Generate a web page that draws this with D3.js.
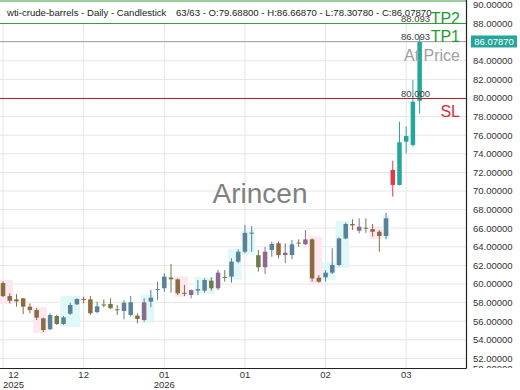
<!DOCTYPE html>
<html>
<head>
<meta charset="utf-8">
<script src="https://cdn.jsdelivr.net/npm/d3@7"></script>
<style>
  body { margin: 0; background: #fff; }
  svg { display: block; font-family: "Liberation Sans", Arial, sans-serif; }
</style>
</head>
<body>
<div id="main"></div>
<script>
const ctx = {
    w: 520,
    h: 390,
};

// daily OHLC, 63 sessions
const opens  = [60.1, 58.7, 58.35, 58.46, 57.56, 57.2, 56.31, 55.13, 55.7, 55.7, 56.8, 57.82, 58.38, 58.35, 56.98, 57.7,
                57.85, 57.28, 57.1, 58.03, 56.6, 56.13, 58.1, 59.35, 59.54, 60.5, 60.5, 59.05, 58.82, 59.3, 59.28, 59.54,
                59.54, 60.75, 60.79, 62.4, 63.47, 65.45, 63.1, 61.8, 63.66, 64.38, 63.12, 63.12, 64.38, 64.27, 64.8, 60.68,
                60.72, 61.22, 62.04, 64.9, 66.45, 65.73, 66.05, 65.9, 65.62, 65.16, 72.26, 70.65, 75.3, 74.95, 79.688];
const highs  = [60.3, 59.0, 58.92, 58.5, 57.92, 57.4, 56.38, 56.85, 56.7, 56.56, 58.0, 58.46, 58.64, 58.7, 58.1, 58.35,
                58.46, 57.74, 58.28, 58.7, 56.85, 58.46, 59.35, 60.25, 61.15, 62.15, 60.6, 59.9, 59.4, 60.43, 60.6, 60.72,
                61.5, 61.5, 62.76, 63.73, 66.34, 66.24, 63.66, 64.0, 64.55, 64.55, 64.38, 64.73, 64.8, 65.8, 64.9, 60.97,
                61.5, 63.84, 65.0, 66.6, 66.96, 67.06, 67.06, 66.45, 65.8, 67.67, 73.26, 77.45, 76.92, 81.94, 86.6687];
const lows   = [58.6, 57.9, 57.56, 56.77, 56.85, 56.13, 54.84, 55.05, 55.6, 55.6, 56.67, 57.74, 57.92, 56.67, 56.85, 57.5,
                57.3, 56.67, 56.2, 56.49, 55.77, 55.95, 57.5, 58.3, 59.17, 59.07, 58.82, 58.7, 58.46, 58.82, 59.07, 59.28,
                59.35, 60.25, 60.14, 62.23, 63.3, 63.47, 61.33, 61.08, 62.94, 62.76, 62.23, 62.66, 64.0, 64.2, 60.25, 60.14,
                60.25, 61.08, 61.9, 64.8, 65.8, 65.45, 65.5, 65.1, 63.47, 64.8, 69.39, 70.6, 74.05, 74.76, 78.3078];
const closes = [58.7, 58.2, 58.13, 57.56, 57.2, 56.38, 55.05, 56.67, 56.56, 56.42, 57.74, 58.39, 58.32, 56.85, 57.6, 57.8,
                57.39, 57.22, 57.99, 56.67, 56.24, 58.03, 58.53, 59.45, 60.79, 60.7, 59.0, 58.95, 59.35, 59.45, 60.43, 60.36,
                61.22, 60.68, 62.4, 63.47, 65.5, 65.52, 61.8, 63.47, 64.3, 63.1, 63.37, 64.27, 64.45, 64.8, 60.6, 60.25,
                61.22, 62.04, 64.9, 66.45, 66.3, 66.16, 65.95, 65.62, 65.16, 67.06, 70.65, 75.24, 75.91, 79.6, 86.0787];
// candle tone: b brown, u blue, v violet, o olive, R red, G green
const tones = "bbbbbbbuouuubbuooouubvuuuobbvuuovouuuuovubvuovbbuuuubvobbuRGGGG".split("");

// highlighted zones (candle index ranges)
const zoneFrom = [0, 5, 26, 46, 55, 9, 21, 29, 34, 36, 48, 50, 57];
const zoneTo   = [1, 6, 27, 47, 56, 11, 22, 31, 35, 37, 49, 51, 57];
const zoneKind = ["bear", "bear", "bear", "bear", "bear", "bull", "bull", "bull", "bull", "bull", "bull", "bull", "bull"];

const tickIndex = [0, 12, 24, 36, 48, 60];
const tickMonth = ["12", "12", "01", "01", "02", "03"];
const tickYear  = ["2025", "", "2026", "", "", ""];
const yTicks = d3.range(50, 91, 2);

const levelNames  = ["TP2", "TP1", "SL"];
const levelValues = [88.093, 86.093, 80.000];

const title = "wti-crude-barrels - Daily - Candlestick";
const info = "63/63 - O:79.68800 - H:86.66870 - L:78.30780 - C:86.07870";

function createChart(svgEl) {
    const plotW = 466, plotH = 368;
    const n = closes.length;
    const x = d3.scaleLinear().domain([-0.45, 68.9]).range([0, plotW]);
    const y = d3.scaleLinear().domain([50, 90]).range([377, 5]);
    const step = x(1) - x(0);
    const bw = 4.5;

    const tone = d3.scaleOrdinal()
        .domain(["b", "u", "v", "o", "R", "G"])
        .range(["#8b6b40", "#5b8197", "#8a6b8e", "#717a4d", "#e03a48", "#26a69a"]);
    const zoneColor = d3.scaleOrdinal().domain(["bear", "bull"]).range(["#fde7f1", "#e0f8f8"]);

    svgEl.append("defs").append("clipPath").attr("id", "plotClip")
        .append("rect").attr("width", plotW).attr("height", plotH);
    svgEl.append("defs").append("clipPath").attr("id", "axisClip")
        .append("rect").attr("x", plotW).attr("width", ctx.w - plotW).attr("height", plotH);

    const g = svgEl.append("g").attr("clip-path", "url(#plotClip)");

    // grid
    g.selectAll(".hgrid").data(yTicks).join("line")
        .attr("x1", 0).attr("x2", plotW)
        .attr("y1", d => y(d)).attr("y2", d => y(d))
        .attr("stroke", "#e6e6e6");
    g.selectAll(".vgrid").data(tickIndex).join("line")
        .attr("x1", d => x(d)).attr("x2", d => x(d))
        .attr("y1", 22).attr("y2", plotH)
        .attr("stroke", "#e6e6e6");

    // zones
    g.selectAll(".zone").data(zoneFrom).join("rect")
        .attr("x", d => x(d) - step / 2)
        .attr("width", (d, k) => x(zoneTo[k]) - x(d) + step)
        .attr("y", (d, k) => {
            const top = d3.max(d3.range(d, zoneTo[k] + 1), i => Math.max(opens[i], closes[i]));
            return y(top) - 3;
        })
        .attr("height", (d, k) => {
            const idx = d3.range(d, zoneTo[k] + 1);
            const top = d3.max(idx, i => Math.max(opens[i], closes[i]));
            const bot = d3.min(idx, i => Math.min(opens[i], closes[i]));
            return y(bot) - y(top) + 6;
        })
        .attr("fill", (d, k) => zoneColor(zoneKind[k]));

    // watermark
    g.append("text")
        .attr("x", 260).attr("y", 203)
        .attr("text-anchor", "middle")
        .style("font-size", "28px")
        .style("fill", "#808080")
        .text("Arincen");

    // candles
    const idx = d3.range(n);
    g.selectAll(".wick").data(idx).join("line")
        .attr("x1", i => x(i)).attr("x2", i => x(i))
        .attr("y1", i => y(highs[i])).attr("y2", i => y(lows[i]))
        .attr("stroke", i => tone(tones[i]))
        .attr("stroke-width", 1);
    g.selectAll(".body").data(idx).join("rect")
        .attr("x", i => x(i) - bw / 2)
        .attr("width", bw)
        .attr("y", i => y(Math.max(opens[i], closes[i])))
        .attr("height", i => Math.max(1, Math.abs(y(opens[i]) - y(closes[i]))))
        .attr("fill", i => tone(tones[i]));

    // header
    g.append("rect").attr("x", 0).attr("y", 1).attr("width", plotW).attr("height", 21).attr("fill", "#fff");
    g.append("line").attr("x1", 0).attr("x2", plotW).attr("y1", 1).attr("y2", 1).attr("stroke", "#3c9a3c");
    g.append("text").attr("x", 7).attr("y", 15.5)
        .style("font-size", "9.6px").style("fill", "#222").text(title);
    g.append("text").attr("x", 176).attr("y", 15.5)
        .style("font-size", "9.6px").style("fill", "#222").text(info);

    // target / stop levels
    const lineColor = ["#3c9a3c", "#a8a8a8", "#b0282e"];
    const nameColor = ["#1f9a2f", "#1f9a2f", "#d8283a"];
    levelValues.forEach((v, k) => {
        const ly = Math.round(y(v)) + 0.5;
        g.append("line").attr("x1", 0).attr("x2", plotW).attr("y1", ly).attr("y2", ly)
            .attr("stroke", lineColor[k]);
        g.append("text").attr("x", 430).attr("y", ly - 2)
            .attr("text-anchor", "end")
            .style("font-size", "9.5px").style("fill", "#444")
            .text(v.toFixed(3));
        g.append("text").attr("x", 460).attr("y", levelNames[k] === "SL" ? ly + 18.5 : ly)
            .attr("text-anchor", "end")
            .style("font-size", "16px").style("fill", nameColor[k])
            .text(levelNames[k]);
    });
    g.append("text").attr("x", 460).attr("y", y(levelValues[1]) + 20)
        .attr("text-anchor", "end")
        .style("font-size", "16px").style("fill", "#a0a0a0")
        .text("At Price");

    // axes
    svgEl.append("line").attr("x1", 0).attr("x2", plotW + 0.5).attr("y1", plotH + 0.5).attr("y2", plotH + 0.5)
        .attr("stroke", "#222").attr("stroke-width", 1.2);
    svgEl.append("line").attr("x1", plotW + 0.5).attr("x2", plotW + 0.5).attr("y1", 0).attr("y2", plotH + 0.5)
        .attr("stroke", "#222").attr("stroke-width", 1.2);

    const ya = svgEl.append("g").attr("clip-path", "url(#axisClip)");
    ya.selectAll(".ylab").data(yTicks).join("text")
        .attr("x", 473)
        .attr("y", d => Math.max(Math.min(y(d), plotH + 1), 3.5))
        .attr("dy", "0.35em")
        .style("font-size", "9.5px").style("fill", "#333")
        .text(d => d.toFixed(5));

    // last price tag
    const last = closes[n - 1];
    svgEl.append("rect").attr("x", 471).attr("y", y(last) - 6).attr("width", 46).attr("height", 12)
        .attr("fill", "#26a69a");
    svgEl.append("text").attr("x", 494).attr("y", y(last)).attr("dy", "0.35em")
        .attr("text-anchor", "middle")
        .style("font-size", "9.5px").style("fill", "#fff")
        .text(last.toFixed(5));

    // x labels
    tickIndex.forEach((t, k) => {
        const lab = svgEl.append("g");
        const t1 = lab.append("text").attr("y", 378).attr("text-anchor", "middle")
            .style("font-size", "9.5px").style("fill", "#333").text(tickMonth[k]);
        const t2 = lab.append("text").attr("y", 388).attr("text-anchor", "middle")
            .style("font-size", "9.5px").style("fill", "#333").text(tickYear[k]);
        const wMax = Math.max(t1.node().getComputedTextLength(), t2.node().getComputedTextLength());
        const cx = Math.max(x(t), wMax / 2 + 3);
        t1.attr("x", cx);
        t2.attr("x", cx);
    });
}

function createViz() {
    const svgEl = d3.select("#main").append("svg")
        .attr("width", ctx.w)
        .attr("height", ctx.h);
    createChart(svgEl);
}

createViz();
</script>
</body>
</html>
